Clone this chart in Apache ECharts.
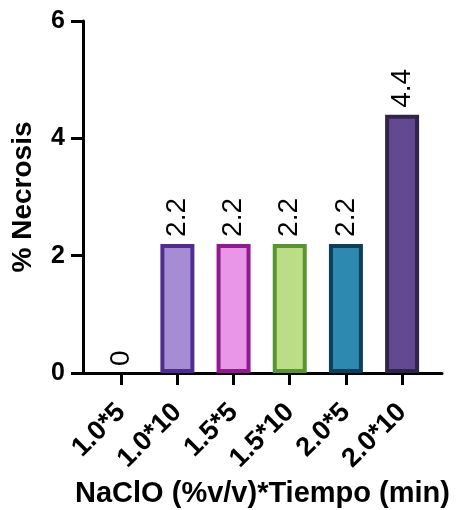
<!DOCTYPE html>
<html>
<head>
<meta charset="utf-8">
<script src="https://cdn.jsdelivr.net/npm/echarts@6/dist/echarts.min.js"></script>
<style>
html,body{margin:0;padding:0;background:#fff;}
#chart{width:457px;height:510px;}
</style>
</head>
<body>
<div id="chart"></div>
<script>
const categories = ['1.0*5', '1.0*10', '1.5*5', '1.5*10', '2.0*5', '2.0*10'];
const necrosis = [0, 2.2, 2.2, 2.2, 2.2, 4.4];
const yTicks = [0, 2, 4, 6];

const fillColors = ['#000000', '#A68CD4', '#E996E8', '#BCDD88', '#2E89B0', '#634892'];
const borderColors = ['#000000', '#4F2D8E', '#92198F', '#5A9431', '#0C3F58', '#302448'];

const FONT = '"Liberation Sans", Arial, sans-serif';
const chart = echarts.init(document.getElementById('chart'), null, {renderer: 'canvas'});

const idx = categories.map((c, i) => i);
const seriesData = necrosis.map((v, i) => ({
  value: [i, v],
  itemStyle: {
    color: fillColors[i],
    borderColor: borderColors[i],
    borderWidth: v === 0 ? 0 : 4
  }
}));

chart.setOption({
  animation: false,
  backgroundColor: '#fff',
  grid: {left: 83, right: 15, top: 21, bottom: 137, containLabel: false, outerBoundsMode: 'none'},
  xAxis: {
    type: 'value',
    min: -0.68,
    max: 5.71,
    name: 'NaClO (%v/v)*Tiempo (min)',
    nameLocation: 'middle',
    nameGap: 103,
    nameTextStyle: {fontFamily: FONT, fontWeight: 'bold', fontSize: 29, color: '#000'},
    splitLine: {show: false},
    axisLine: {show: true, onZero: false, lineStyle: {color: '#000', width: 3}},
    axisTick: {show: true, length: 12, lineStyle: {color: '#000', width: 3}, customValues: idx},
    axisLabel: {
      customValues: idx,
      rotate: 45,
      margin: 35,
      fontFamily: FONT, fontWeight: 'bold', fontSize: 27, color: '#000',
      formatter: v => categories[Math.round(v)]
    }
  },
  yAxis: {
    type: 'value',
    min: 0,
    max: 6,
    interval: 2,
    name: '% Necrosis',
    nameLocation: 'middle',
    nameGap: 46,
    nameTextStyle: {fontFamily: FONT, fontWeight: 'bold', fontSize: 28, color: '#000'},
    splitLine: {show: false},
    axisLine: {show: true, onZero: false, lineStyle: {color: '#000', width: 3}},
    axisTick: {show: true, length: 12, lineStyle: {color: '#000', width: 3}},
    axisLabel: {
      margin: 18,
      fontFamily: FONT, fontWeight: 'bold', fontSize: 25, color: '#000',
      formatter: v => yTicks.includes(v) ? String(v) : ''
    }
  },
  series: [{
    type: 'bar',
    data: seriesData,
    barWidth: 34,
    label: {
      show: true,
      position: 'top',
      rotate: 90,
      align: 'left',
      verticalAlign: 'middle',
      distance: 7,
      fontFamily: FONT,
      fontSize: 28,
      color: '#000',
      formatter: p => String(p.value[1])
    }
  }]
});
</script>
</body>
</html>
